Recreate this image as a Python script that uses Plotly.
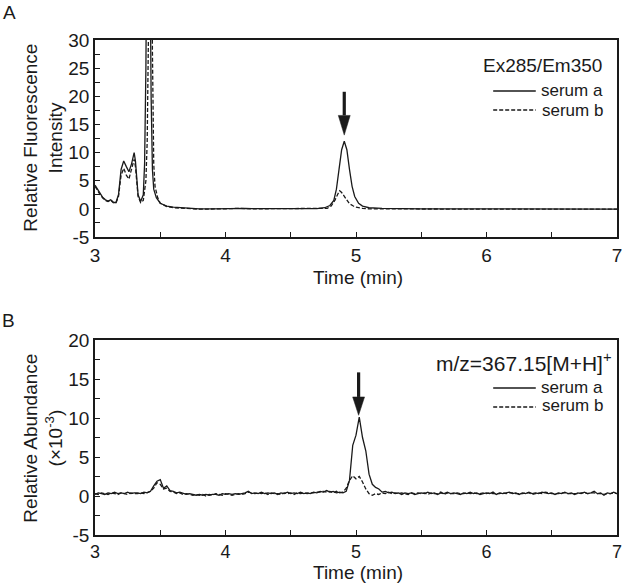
import plotly.graph_objects as go
from plotly.subplots import make_subplots

# ---------------- data ----------------
# Panel A: fluorescence (Ex285/Em350)
tA_a = [3.00, 3.02, 3.04, 3.06, 3.08, 3.10, 3.12, 3.14, 3.16, 3.18, 3.20, 3.22, 3.24, 3.26,
        3.28, 3.30, 3.31, 3.32, 3.33, 3.35, 3.37, 3.38, 3.39, 3.40, 3.41, 3.42, 3.43, 3.44,
        3.45, 3.47, 3.50, 3.55, 3.60, 3.70, 3.80, 3.90, 4.00, 4.10, 4.15, 4.20, 4.40, 4.60,
        4.70, 4.76, 4.80, 4.83, 4.85, 4.87, 4.89, 4.91, 4.93, 4.95, 4.97, 4.99, 5.02, 5.05,
        5.10, 5.20, 5.30, 5.40, 5.50, 6.00, 6.50, 7.00]
yA_a = [4.2, 3.4, 2.6, 2.0, 1.6, 1.4, 1.6, 1.2, 1.1, 2.5, 7.0, 8.5, 7.5, 6.6,
        8.0, 10.0, 8.5, 5.0, 2.5, 1.3, 2.5, 8.0, 25.0, 60.0, 75.0, 50.0, 20.0, 7.0,
        3.5, 2.0, 1.0, 0.5, 0.3, 0.1, 0.0, 0.0, 0.05, 0.2, 0.1, 0.05, 0.0, 0.0,
        0.05, 0.2, 0.6, 1.5, 3.5, 7.0, 10.5, 12.0, 10.5, 7.0, 4.0, 2.2, 1.0, 0.5,
        0.2, 0.1, 0.05, 0.1, 0.0, 0.0, -0.05, -0.05]

tA_b = [3.00, 3.02, 3.04, 3.06, 3.08, 3.10, 3.12, 3.14, 3.16, 3.18, 3.20, 3.22, 3.24, 3.26,
        3.28, 3.30, 3.31, 3.32, 3.33, 3.35, 3.37, 3.39, 3.40, 3.41, 3.42, 3.43, 3.44, 3.45,
        3.46, 3.48, 3.50, 3.55, 3.60, 3.70, 3.80, 4.00, 4.10, 4.20, 4.50, 4.78, 4.81, 4.84,
        4.86, 4.875, 4.89, 4.91, 4.93, 4.95, 4.98, 5.00, 5.05, 5.10, 6.00, 7.00]
yA_b = [4.0, 3.2, 2.5, 1.9, 1.5, 1.3, 1.5, 1.1, 1.0, 2.2, 6.0, 7.2, 6.0, 5.3,
        7.0, 8.8, 7.5, 4.5, 2.2, 1.1, 1.5, 5.0, 12.0, 32.0, 70.0, 62.0, 28.0, 8.0,
        4.0, 2.0, 1.0, 0.4, 0.2, 0.05, -0.05, 0.0, 0.1, 0.0, 0.0, 0.1, 0.5, 1.6,
        2.6, 3.2, 2.9, 2.2, 1.4, 0.9, 0.5, 0.3, 0.1, 0.0, -0.05, -0.05]

# Panel B: m/z 367.15 [M+H]+ extracted ion chromatogram (x10^-3), sampled every 0.025 min
tB = [round(3.0 + 0.025 * i, 3) for i in range(161)]
yB_a = [0.2, 0.4, 0.3, 0.2, 0.4, 0.3, 0.5, 0.3, 0.4, 0.3,
        0.5, 0.3, 0.4, 0.4, 0.3, 0.5, 0.4, 0.6, 1.3, 1.9,
        2.1, 1.0, 1.3, 0.7, 0.6, 0.4, 0.5, 0.3, 0.2, 0.3,
        0.2, 0.1, 0.2, 0.1, 0.2, 0.1, 0.2, 0.2, 0.1, 0.3,
        0.2, 0.3, 0.2, 0.3, 0.2, 0.3, 0.4, 0.6, 0.3, 0.4,
        0.3, 0.5, 0.3, 0.4, 0.3, 0.4, 0.2, 0.4, 0.3, 0.5,
        0.3, 0.4, 0.3, 0.5, 0.3, 0.4, 0.3, 0.5, 0.4, 0.6,
        0.5, 0.7, 0.5, 0.6, 0.4, 0.5, 0.4, 0.6, 2.0, 6.5,
        7.8, 10.1, 7.5, 5.8, 2.8, 1.5, 1.1, 0.9, 0.5, 0.6,
        0.4, 0.5, 0.3, 0.4, 0.2, 0.4, 0.3, 0.4, 0.2, 0.3,
        0.4, 0.3, 0.5, 0.3, 0.4, 0.2, 0.4, 0.3, 0.5, 0.3,
        0.4, 0.3, 0.2, 0.4, 0.3, 0.5, 0.3, 0.4, 0.2, 0.3,
        0.4, 0.3, 0.5, 0.2, 0.4, 0.3, 0.4, 0.5, 0.3, 0.4,
        0.2, 0.4, 0.3, 0.5, 0.3, 0.4, 0.3, 0.5, 0.4, 0.3,
        0.4, 0.2, 0.4, 0.3, 0.5, 0.3, 0.4, 0.2, 0.4, 0.3,
        0.5, 0.3, 0.4, 0.6, 0.3, 0.4, 0.1, 0.4, 0.3, 0.5, 0.3]
yB_b = [0.3, 0.2, 0.4, 0.3, 0.2, 0.4, 0.3, 0.2, 0.4, 0.3,
        0.2, 0.4, 0.3, 0.3, 0.4, 0.3, 0.5, 0.6, 1.0, 1.7,
        1.5, 0.9, 1.0, 0.6, 0.5, 0.3, 0.4, 0.2, 0.3, 0.2,
        0.1, 0.2, 0.1, 0.2, 0.0, 0.2, 0.1, 0.3, 0.2, 0.1,
        0.3, 0.2, 0.1, 0.2, 0.3, 0.2, 0.3, 0.5, 0.4, 0.3,
        0.4, 0.3, 0.4, 0.2, 0.4, 0.3, 0.3, 0.2, 0.4, 0.3,
        0.4, 0.2, 0.4, 0.3, 0.4, 0.3, 0.4, 0.4, 0.5, 0.5,
        0.6, 0.5, 0.6, 0.4, 0.6, 0.4, 0.5, 1.0, 2.0, 2.6,
        2.2, 2.5, 1.8, 0.9, 0.3, 0.1, 0.3, 0.2, 0.4, 0.3,
        0.5, 0.3, 0.4, 0.3, 0.4, 0.3, 0.2, 0.4, 0.3, 0.4,
        0.3, 0.4, 0.2, 0.4, 0.3, 0.3, 0.5, 0.2, 0.4, 0.3,
        0.3, 0.4, 0.3, 0.3, 0.4, 0.3, 0.4, 0.3, 0.3, 0.4,
        0.3, 0.4, 0.3, 0.3, 0.3, 0.4, 0.3, 0.4, 0.4, 0.3,
        0.3, 0.3, 0.4, 0.4, 0.2, 0.3, 0.4, 0.3, 0.5, 0.4,
        0.3, 0.3, 0.3, 0.4, 0.4, 0.3, 0.3, 0.3, 0.3, 0.4,
        0.4, 0.3, 0.4, 0.4, 0.3, 0.3, 0.2, 0.3, 0.3, 0.4, 0.3]

series_names = ["serum a", "serum b"]
x_range = [3, 7]
x_ticks = [3, 4, 5, 6, 7]
x_ticktext = ["3", "4", "5", "6", "7"]
yA_range = [-5, 30]
yA_ticks = [-5, 0, 5, 10, 15, 20, 25, 30]
yA_ticktext = ["-5", "0", "5", "10", "15", "20", "25", "30"]
yB_range = [-5, 20]
yB_ticks = [-5, 0, 5, 10, 15, 20]
yB_ticktext = ["-5", "0", "5", "10", "15", "20"]

# arrows marking the analyte peak (x, shaft top, head base, tip) in data units
arrowA = dict(x=4.91, top=20.8, head=16.6, tip=13.1)
arrowB = dict(x=5.02, top=15.85, head=12.7, tip=10.35)

# ---------------- layout helpers ----------------
W, H = 629, 585
ML, MR, MT, MB = 95, 7, 40, 48
PW, PH = W - ML - MR, H - MT - MB


def px(x):
    return (x - ML) / PW


def py(y):
    return (H - MB - y) / PH


FONT = "Liberation Sans, Arial, Helvetica, sans-serif"
INK = "#1a1a1a"

fig = make_subplots(rows=2, cols=1)

solid = dict(color=INK, width=1.3)
dashed = dict(color=INK, width=1.3, dash="4px,2px")

fig.add_trace(go.Scatter(x=tA_a, y=yA_a, mode="lines", line=solid, name=series_names[0],
                         showlegend=False), row=1, col=1)
fig.add_trace(go.Scatter(x=tA_b, y=yA_b, mode="lines", line=dashed, name=series_names[1],
                         showlegend=False), row=1, col=1)
fig.add_trace(go.Scatter(x=tB, y=yB_a, mode="lines", line=solid, name=series_names[0],
                         showlegend=False), row=2, col=1)
fig.add_trace(go.Scatter(x=tB, y=yB_b, mode="lines", line=dashed, name=series_names[1],
                         showlegend=False), row=2, col=1)

axis_common = dict(showline=True, linewidth=1.5, linecolor=INK, mirror=True,
                   showgrid=False, zeroline=False, ticks="inside", ticklen=5,
                   tickwidth=1.2, tickcolor=INK,
                   tickfont=dict(size=19, color=INK, family=FONT))

fig.update_xaxes(range=x_range, tickvals=x_ticks, ticktext=x_ticktext,
                 minor=dict(dtick=0.5, tick0=3, ticks="inside", ticklen=5, tickwidth=1.2,
                            tickcolor=INK),
                 ticklabelstandoff=0, **axis_common)
fig.update_xaxes(tickfont=dict(size=18, color=INK, family=FONT), row=2, col=1)
fig.update_yaxes(minor=dict(dtick=2.5, tick0=0, ticks="inside", ticklen=5, tickwidth=1.2,
                            tickcolor=INK),
                 ticklabelstandoff=0, **axis_common)
fig.update_yaxes(range=yA_range, tickvals=yA_ticks, ticktext=yA_ticktext, row=1, col=1)
fig.update_yaxes(range=yB_range, tickvals=yB_ticks, ticktext=yB_ticktext, row=2, col=1)

fig.layout.xaxis.domain = [0, 1]
fig.layout.xaxis2.domain = [0, 1]
fig.layout.yaxis.domain = [py(237), py(40)]
fig.layout.yaxis2.domain = [py(535), py(340)]

# arrows as shapes
shapes = []
for arr, xr, yr in [(arrowA, "x", "y"), (arrowB, "x2", "y2")]:
    hw = 6.0 / (PW / (x_range[1] - x_range[0]))  # half head width (6 px) in data units
    shapes.append(dict(type="line", xref=xr, yref=yr, x0=arr["x"], x1=arr["x"],
                       y0=arr["top"], y1=arr["head"], line=dict(color=INK, width=3.2)))
    shapes.append(dict(type="path", xref=xr, yref=yr,
                       path=f"M{arr['x'] - hw},{arr['head']} L{arr['x'] + hw},{arr['head']} "
                            f"L{arr['x']},{arr['tip']} Z",
                       fillcolor=INK, line=dict(color=INK, width=0.5)))

# legend samples (manual, matching original layout)
for y_solid, y_dash in [(91, 110), (388, 407)]:
    shapes.append(dict(type="line", xref="paper", yref="paper", x0=px(497), x1=px(540),
                       y0=py(y_solid), y1=py(y_solid), line=dict(color=INK, width=1.3)))
    shapes.append(dict(type="line", xref="paper", yref="paper", x0=px(497), x1=px(540),
                       y0=py(y_dash), y1=py(y_dash), line=dict(color=INK, width=1.3, dash="4px,2px")))

annotations = []


def txt(text, x, y, size=19, xanchor="center", angle=0):
    annotations.append(dict(text=text, x=px(x), y=py(y), xref="paper", yref="paper",
                            showarrow=False, xanchor=xanchor, yanchor="middle",
                            textangle=angle, font=dict(size=size, color=INK, family=FONT)))


# legend titles and entries
txt("Ex285/Em350", 609, 65, size=19, xanchor="right")
txt(series_names[0], 610, 90, size=17, xanchor="right")
txt(series_names[1], 610, 110, size=17, xanchor="right")
txt("m/z=367.15[M+H]<sup>+</sup>", 619, 362, size=21, xanchor="right")
txt(series_names[0], 610, 387, size=17, xanchor="right")
txt(series_names[1], 610, 406, size=17, xanchor="right")

# axis titles
txt("Time (min)", 361, 277)
txt("Time (min)", 361, 572)
txt("Relative Fluorescence", 29, 138, angle=-90)
txt("Intensity", 55, 138, angle=-90)
txt("Relative Abundance", 29, 438, angle=-90)
txt("(×10<sup>-3</sup>)", 54, 438, angle=-90)

# panel labels
txt("A", 9, 12, size=19)
txt("B", 8, 320, size=19)

fig.update_layout(width=W, height=H, margin=dict(l=ML, r=MR, t=MT, b=MB),
                  plot_bgcolor="white", paper_bgcolor="white",
                  font=dict(family=FONT, size=19, color=INK),
                  shapes=shapes, annotations=annotations, showlegend=False)

fig.write_html("out.html", config={"displayModeBar": False},
               post_script="document.body.style.margin='0';document.body.style.padding='0';")
